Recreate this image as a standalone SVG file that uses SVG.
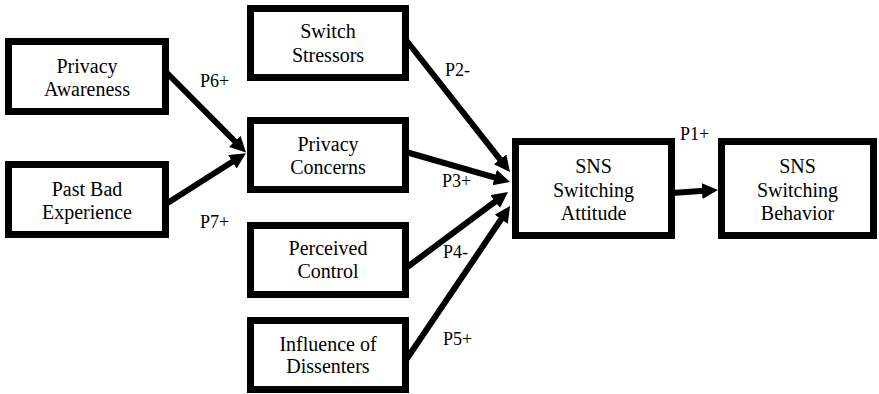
<svg xmlns="http://www.w3.org/2000/svg" width="879" height="394" viewBox="0 0 879 394">
  <style>
    .box { fill: #ffffff; stroke: #000000; stroke-width: 7; }
    .node-text { font-size: 20px; fill: #000000; text-anchor: middle; }
    .label { font-size: 18px; fill: #000000; }
    .edge { stroke: #000000; stroke-width: 6; fill: none; marker-end: url(#head); }
  </style>
  <defs>
    <marker id="head" markerUnits="userSpaceOnUse" markerWidth="17" markerHeight="17" refX="6" refY="8" orient="auto">
      <path d="M0,0 L16,8 L0,16 z" fill="#000000"/>
    </marker>
  </defs>
  <rect width="879" height="394" fill="#ffffff"/>

  <g id="connectors">
    <!-- each line stops 10px short of its tip; the marker supplies the rest -->
    <line class="edge" x1="166" y1="72" x2="239" y2="145.5"/>
    <line class="edge" x1="166" y1="204" x2="237.5" y2="158.5"/>
    <line class="edge" x1="406" y1="40" x2="503.8" y2="164.1"/>
    <line class="edge" x1="406" y1="152" x2="500.4" y2="179.2"/>
    <line class="edge" x1="406" y1="268" x2="500" y2="198"/>
    <line class="edge" x1="406" y1="360" x2="504.5" y2="214.3"/>
    <line class="edge" x1="672" y1="193" x2="708" y2="190.6"/>
  </g>

  <g id="diagram-text" font-family="Liberation Serif, Times New Roman, Times, serif">
    <g id="labels">
      <text class="label" x="200" y="87">P6+</text>
      <text class="label" x="200" y="228">P7+</text>
      <text class="label" x="445" y="76">P2-</text>
      <text class="label" x="442" y="187">P3+</text>
      <text class="label" x="443" y="258">P4-</text>
      <text class="label" x="443" y="345">P5+</text>
      <text class="label" x="680" y="140">P1+</text>
    </g>

    <g id="privacy-awareness">
      <rect class="box" x="8.5" y="41.5" width="157" height="70"/>
      <text class="node-text" x="87" y="73">Privacy</text>
      <text class="node-text" x="87" y="96">Awareness</text>
    </g>

    <g id="past-bad-experience">
      <rect class="box" x="8.5" y="164.5" width="157" height="70"/>
      <text class="node-text" x="87" y="196">Past Bad</text>
      <text class="node-text" x="87" y="219">Experience</text>
    </g>

    <g id="switch-stressors">
      <rect class="box" x="250.5" y="8.5" width="155" height="69"/>
      <text class="node-text" x="328" y="38">Switch</text>
      <text class="node-text" x="328" y="62">Stressors</text>
    </g>

    <g id="privacy-concerns">
      <rect class="box" x="250.5" y="120.5" width="155" height="69"/>
      <text class="node-text" x="328" y="151">Privacy</text>
      <text class="node-text" x="328" y="174">Concerns</text>
    </g>

    <g id="perceived-control">
      <rect class="box" x="250.5" y="225.5" width="155" height="69"/>
      <text class="node-text" x="328" y="255">Perceived</text>
      <text class="node-text" x="328" y="278">Control</text>
    </g>

    <g id="influence-of-dissenters">
      <rect class="box" x="250.5" y="320.5" width="155" height="69"/>
      <text class="node-text" x="328" y="351">Influence of</text>
      <text class="node-text" x="328" y="373">Dissenters</text>
    </g>

    <g id="sns-switching-attitude">
      <rect class="box" x="515.5" y="141.5" width="156" height="94"/>
      <text class="node-text" x="593.5" y="173">SNS</text>
      <text class="node-text" x="593.5" y="197">Switching</text>
      <text class="node-text" x="593.5" y="220">Attitude</text>
    </g>

    <g id="sns-switching-behavior">
      <rect class="box" x="721.5" y="141.5" width="152" height="94"/>
      <text class="node-text" x="797.5" y="173">SNS</text>
      <text class="node-text" x="797.5" y="197">Switching</text>
      <text class="node-text" x="797.5" y="220">Behavior</text>
    </g>
  </g>
</svg>
